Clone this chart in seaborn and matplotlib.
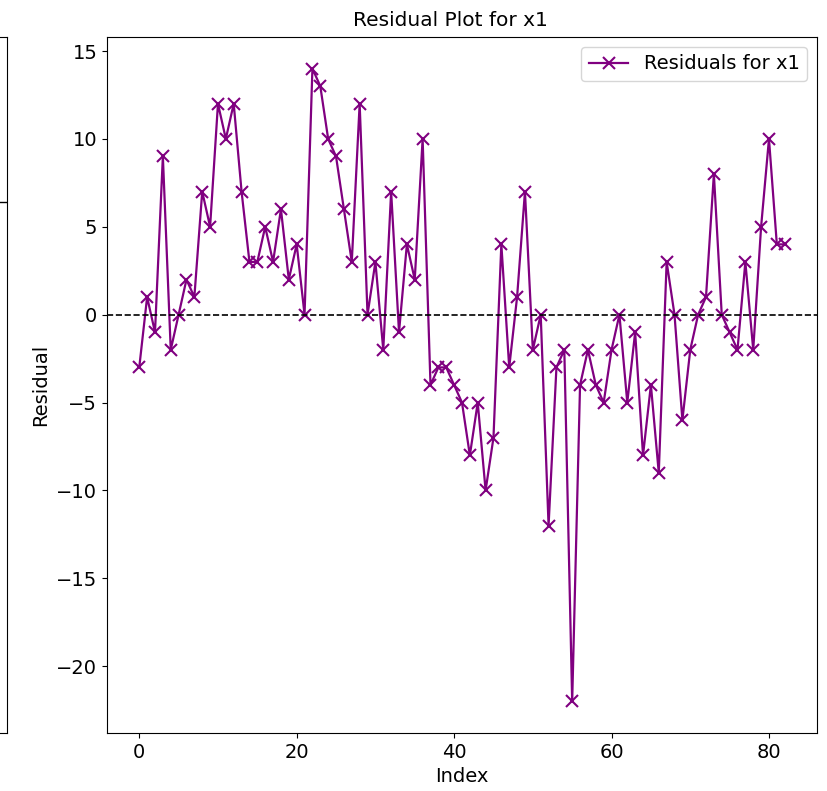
import matplotlib
matplotlib.use("Agg")
import numpy as np
import pandas as pd
import matplotlib.pyplot as plt
import seaborn as sns

# residuals, one per index 0..82
residuals = [-3, 1, -1, 9, -2, 0, 2, 1, 7, 5,
             12, 10, 12, 7, 3, 3, 5, 3, 6, 2,
             4, 0, 14, 13, 10, 9, 6, 3, 12, 0,
             3, -2, 7, -1, 4, 2, 10, -4, -3, -3,
             -4, -5, -8, -5, -10, -7, 4, -3, 1, 7,
             -2, 0, -12, -3, -2, -22, -4, -2, -4, -5,
             -2, 0, -5, -1, -8, -4, -9, 3, 0, -6,
             -2, 0, 1, 8, 0, -1, -2, 3, -2, 5,
             10, 4, 4]
index = list(range(len(residuals)))
series_label = "Residuals for x1"
title = "Residual Plot for x1"

# neighbouring panel on the left is cut off; only its right edge shows
left_panel_ref_level = 0.763

df = pd.DataFrame({"Index": index, "Residual": residuals})

plt.rcParams['font.family'] = ['DejaVu Sans']
plt.rcParams['xtick.labelsize'] = 14
plt.rcParams['ytick.labelsize'] = 14

fig = plt.figure(figsize=(8.28, 7.91), dpi=100)

# cropped neighbour axes (only its right spine is visible)
ax_left = fig.add_axes([-0.5, 0.0733, 0.5085, 0.88])
ax_left.set_xticks([]); ax_left.set_yticks([])
ax_left.set_ylim(0, 1)
ax_left.axhline(left_panel_ref_level, color='black', lw=1)

ax = fig.add_axes([0.1292, 0.0733, 0.8575, 0.88])
sns.lineplot(data=df, x="Index", y="Residual", ax=ax, color='purple',
             marker='x', markersize=8, markeredgecolor='purple',
             markeredgewidth=1.5, linewidth=1.6, label=series_label)
ax.axhline(0, color='black', linestyle='--', linewidth=1.2)
ax.set_title(title, fontsize=14.5, pad=8, x=0.484)
ax.set_xlabel("Index", fontsize=14)
ax.set_ylabel("Residual", fontsize=14)
ax.legend(loc='upper right', fontsize=14)

fig.savefig("out.png", dpi=100)
